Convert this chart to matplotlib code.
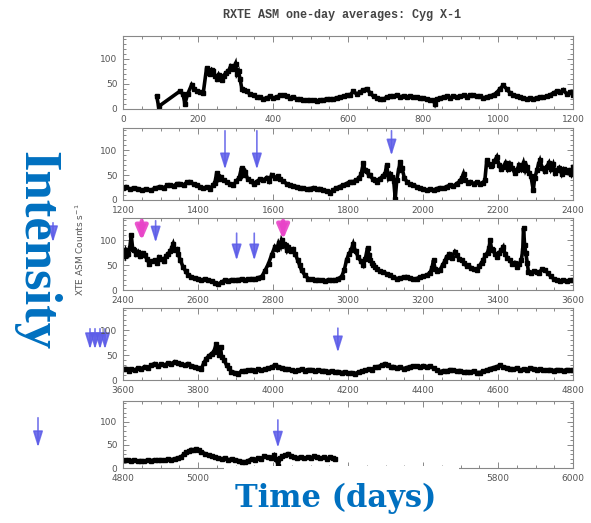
import matplotlib
matplotlib.use("Agg")
import matplotlib.pyplot as plt
from matplotlib.patches import Rectangle
from matplotlib.ticker import MultipleLocator

# one-day averages, (day, counts/s) per panel
p1 = [(90, 25), (95, 5), (151, 35), (160, 30), (165, 10), (172, 29), (183, 48), (190, 40), (196, 36), (205, 34),
      (214, 32), (223, 82), (228, 72), (232, 70), (237, 78), (241, 75), (246, 65), (250, 60), (255, 68), (259, 62),
      (264, 58), (268, 65), (274, 72), (281, 75), (287, 85), (294, 80), (300, 90), (304, 70), (308, 75), (312, 60),
      (317, 40), (323, 38), (330, 35), (338, 30), (348, 27), (356, 24), (366, 24), (374, 20), (383, 22), (392, 25),
      (401, 22), (410, 24), (419, 27), (428, 28), (436, 25), (445, 22), (454, 24), (463, 20), (472, 19), (481, 18),
      (490, 17), (499, 18), (508, 17), (517, 16), (526, 18), (534, 18), (543, 20), (552, 19), (561, 20), (570, 22),
      (579, 24), (588, 25), (597, 27), (606, 28), (614, 35), (623, 30), (632, 33), (641, 38), (650, 40), (659, 32),
      (668, 25), (676, 22), (685, 20), (694, 20), (703, 23), (712, 26), (721, 25), (730, 28), (739, 24), (748, 26),
      (756, 24), (765, 25), (774, 23), (783, 24), (792, 21), (801, 22), (810, 20), (819, 18), (828, 17), (832, 10),
      (837, 20), (846, 22), (855, 24), (863, 25), (872, 22), (881, 26), (890, 24), (899, 25), (908, 27), (917, 24),
      (926, 28), (934, 28), (943, 25), (952, 26), (961, 22), (970, 24), (979, 26), (988, 28), (996, 32), (1005, 40),
      (1014, 47), (1023, 40), (1032, 32), (1041, 28), (1050, 26), (1058, 24), (1067, 22), (1076, 20), (1085, 21),
      (1094, 20), (1103, 22), (1112, 24), (1121, 23), (1130, 25), (1139, 28), (1148, 32), (1156, 35), (1165, 33),
      (1174, 38), (1183, 30), (1192, 33), (1200, 28)]

p2 = [(1200, 25), (1208, 27), (1218, 22), (1228, 24), (1240, 23), (1250, 20), (1262, 22), (1275, 20), (1286, 24),
      (1298, 27), (1310, 25), (1318, 30), (1325, 30), (1335, 28), (1344, 33), (1352, 33), (1362, 30), (1370, 36),
      (1378, 37), (1388, 32), (1396, 30), (1405, 27), (1414, 24), (1423, 26), (1432, 23), (1440, 30), (1445, 35),
      (1450, 55), (1455, 42), (1460, 47), (1468, 40), (1476, 36), (1485, 33), (1494, 30), (1502, 38), (1510, 45),
      (1516, 65), (1520, 50), (1526, 57), (1532, 43), (1540, 38), (1548, 33), (1556, 37), (1565, 42), (1574, 40),
      (1583, 45), (1590, 38), (1596, 50), (1604, 45), (1612, 48), (1619, 43), (1627, 38), (1636, 33), (1645, 30),
      (1654, 28), (1663, 27), (1672, 25), (1681, 24), (1690, 22), (1699, 23), (1708, 25), (1717, 22), (1725, 23),
      (1734, 20), (1743, 18), (1752, 15), (1760, 20), (1769, 24), (1778, 27), (1787, 30), (1796, 33), (1805, 37),
      (1814, 37), (1822, 40), (1830, 45), (1835, 52), (1841, 75), (1845, 60), (1850, 58), (1855, 50), (1859, 50),
      (1866, 42), (1872, 40), (1876, 37), (1884, 42), (1892, 48), (1899, 53), (1903, 70), (1908, 45), (1913, 52),
      (1917, 47), (1922, 38), (1926, 3), (1930, 40), (1935, 60), (1939, 77), (1944, 65), (1950, 45), (1957, 37),
      (1965, 32), (1974, 30), (1983, 27), (1992, 24), (2001, 22), (2010, 20), (2019, 22), (2028, 20), (2037, 23),
      (2046, 25), (2055, 24), (2063, 27), (2072, 30), (2081, 28), (2090, 33), (2098, 38), (2104, 45), (2108, 53),
      (2113, 40), (2120, 35), (2126, 37), (2135, 33), (2143, 36), (2152, 33), (2160, 35), (2165, 40), (2170, 80),
      (2175, 72), (2180, 68), (2185, 70), (2190, 78), (2197, 87), (2203, 70), (2208, 62), (2214, 67), (2220, 75),
      (2226, 63), (2232, 73), (2238, 65), (2244, 55), (2250, 60), (2256, 70), (2262, 62), (2268, 75), (2273, 60),
      (2277, 67), (2283, 55), (2288, 48), (2294, 20), (2298, 45), (2304, 60), (2308, 72), (2312, 80), (2318, 65),
      (2324, 58), (2330, 67), (2336, 75), (2341, 62), (2347, 72), (2352, 55), (2357, 60), (2363, 65), (2370, 52),
      (2376, 62), (2383, 57), (2389, 60), (2395, 52), (2400, 67)]

p3 = [(2400, 75), (2405, 68), (2408, 80), (2414, 72), (2418, 85), (2422, 110), (2426, 82), (2430, 80), (2435, 72),
      (2440, 77), (2446, 68), (2452, 74), (2458, 70), (2464, 62), (2470, 53), (2476, 58), (2484, 60), (2490, 55),
      (2496, 66), (2502, 63), (2508, 58), (2514, 68), (2520, 73), (2526, 78), (2530, 85), (2534, 93), (2539, 80),
      (2543, 82), (2547, 73), (2553, 60), (2560, 47), (2567, 38), (2574, 30), (2582, 27), (2591, 24), (2600, 23),
      (2609, 20), (2618, 22), (2627, 20), (2636, 18), (2645, 15), (2654, 12), (2663, 16), (2672, 20), (2681, 19),
      (2690, 21), (2698, 20), (2707, 21), (2716, 22), (2725, 20), (2734, 22), (2743, 23), (2752, 22), (2761, 25),
      (2770, 27), (2778, 38), (2788, 53), (2796, 70), (2805, 87), (2810, 82), (2815, 95), (2820, 88), (2823, 100),
      (2828, 92), (2832, 90), (2837, 80), (2841, 87), (2847, 78), (2853, 82), (2859, 73), (2866, 60), (2871, 50),
      (2876, 40), (2885, 30), (2894, 23), (2903, 22), (2912, 20), (2921, 21), (2930, 20), (2939, 18), (2948, 21),
      (2957, 20), (2965, 20), (2974, 23), (2983, 27), (2990, 40), (2996, 60), (3002, 72), (3008, 80), (3014, 93),
      (3020, 78), (3027, 67), (3034, 58), (3041, 50), (3046, 62), (3052, 85), (3056, 70), (3059, 60), (3063, 55),
      (3066, 50), (3071, 47), (3076, 43), (3085, 38), (3094, 36), (3103, 33), (3112, 30), (3121, 26), (3130, 23),
      (3139, 24), (3148, 26), (3156, 27), (3165, 24), (3174, 22), (3183, 23), (3192, 26), (3201, 28), (3210, 30),
      (3219, 35), (3224, 45), (3228, 60), (3232, 43), (3238, 38), (3245, 40), (3252, 50), (3258, 58), (3263, 67),
      (3270, 72), (3276, 65), (3285, 77), (3291, 70), (3297, 62), (3303, 60), (3310, 55), (3316, 48), (3321, 50),
      (3328, 45), (3336, 42), (3343, 40), (3350, 48), (3356, 55), (3361, 60), (3366, 70), (3372, 75), (3376, 85),
      (3379, 100), (3383, 82), (3387, 80), (3392, 72), (3397, 67), (3403, 75), (3408, 80), (3414, 87), (3419, 72),
      (3425, 65), (3432, 60), (3438, 52), (3444, 55), (3450, 47), (3456, 52), (3462, 60), (3466, 80), (3468, 125),
      (3471, 90), (3474, 75), (3478, 55), (3481, 37), (3488, 35), (3495, 38), (3503, 37), (3510, 35), (3517, 42),
      (3525, 40), (3532, 35), (3540, 28), (3548, 23), (3556, 20), (3565, 18), (3574, 20), (3583, 18), (3592, 20),
      (3600, 20)]

p4 = [(3600, 22), (3608, 23), (3615, 18), (3622, 22), (3631, 20), (3640, 24), (3649, 23), (3658, 27), (3667, 25),
      (3675, 30), (3684, 33), (3693, 28), (3702, 32), (3711, 30), (3720, 34), (3729, 33), (3738, 37), (3746, 34),
      (3755, 32), (3764, 30), (3773, 33), (3782, 29), (3791, 27), (3800, 25), (3809, 23), (3816, 35), (3822, 43),
      (3828, 48), (3836, 53), (3842, 57), (3849, 73), (3853, 58), (3856, 50), (3860, 67), (3863, 47), (3870, 40),
      (3876, 30), (3882, 24), (3889, 17), (3898, 15), (3907, 13), (3916, 18), (3925, 19), (3934, 20), (3943, 21),
      (3952, 19), (3960, 22), (3969, 20), (3978, 22), (3987, 24), (3996, 26), (4005, 30), (4014, 27), (4023, 25),
      (4032, 23), (4041, 22), (4050, 20), (4058, 18), (4067, 20), (4076, 22), (4085, 19), (4094, 21), (4103, 21),
      (4112, 18), (4121, 20), (4130, 19), (4138, 19), (4147, 17), (4156, 18), (4165, 16), (4174, 17), (4183, 15),
      (4192, 16), (4201, 14), (4210, 15), (4219, 13), (4228, 16), (4237, 18), (4246, 20), (4255, 22), (4264, 21),
      (4272, 26), (4281, 27), (4290, 30), (4299, 33), (4307, 30), (4315, 26), (4321, 27), (4330, 25), (4339, 26),
      (4348, 23), (4357, 25), (4366, 27), (4374, 28), (4383, 28), (4392, 26), (4401, 29), (4410, 27), (4419, 28),
      (4428, 24), (4437, 20), (4446, 17), (4455, 19), (4464, 18), (4472, 21), (4481, 20), (4490, 18), (4499, 19),
      (4508, 16), (4517, 17), (4526, 16), (4535, 18), (4543, 15), (4552, 15), (4561, 18), (4570, 20), (4579, 23),
      (4588, 25), (4597, 27), (4606, 30), (4614, 26), (4623, 25), (4632, 23), (4641, 22), (4650, 24), (4659, 20),
      (4668, 22), (4677, 21), (4686, 24), (4695, 23), (4704, 21), (4712, 22), (4721, 20), (4730, 20), (4739, 21),
      (4748, 19), (4757, 21), (4766, 20), (4775, 19), (4784, 21), (4792, 20), (4800, 20)]

p5 = [(4803, 17), (4812, 18), (4821, 16), (4830, 17), (4839, 15), (4848, 16), (4857, 15), (4866, 17), (4875, 16),
      (4884, 18), (4893, 17), (4902, 18), (4911, 17), (4920, 19), (4929, 18), (4938, 20), (4947, 22), (4955, 24),
      (4962, 30), (4968, 34), (4975, 36), (4982, 40), (4988, 38), (4995, 41), (5002, 38), (5009, 35), (5019, 31),
      (5028, 28), (5036, 26), (5045, 24), (5054, 22), (5063, 20), (5072, 21), (5081, 18), (5090, 19), (5099, 17),
      (5108, 16), (5117, 14), (5125, 13), (5134, 16), (5143, 20), (5152, 18), (5160, 22), (5168, 20), (5177, 26),
      (5186, 24), (5195, 22), (5203, 28), (5208, 20), (5214, 5), (5219, 22), (5225, 25), (5232, 28), (5240, 31),
      (5248, 27), (5256, 24), (5265, 22), (5274, 24), (5283, 21), (5292, 23), (5300, 22), (5309, 25), (5317, 24),
      (5326, 21), (5335, 23), (5344, 20), (5352, 24), (5360, 22), (5366, 20)]

panels = [p1, p2, p3, p4, p5]
panel_start = [0, 1200, 2400, 3600, 4800]

# arrows inside panels: (panel, day, top count, tip count, kind)
arrows = [(1, 1472, 145, 56, "blue"), (1, 1557, 145, 56, "blue"), (1, 1916, 145, 84, "blue"),
          (2, 2450, 145, 94, "pink"), (2, 2487, 145, 90, "blue"), (2, 2703, 120, 54, "blue"),
          (2, 2750, 120, 54, "blue"), (2, 2827, 145, 96, "pink"),
          (3, 4173, 110, 50, "blue"),
          (4, 5213, 110, 38, "blue")]

W, H = 591, 523
fig = plt.figure(figsize=(W / 100, H / 100), dpi=100)

# panel boxes in image pixels (top, bottom)
rows = [(36, 109), (128, 200), (218, 290), (308, 380), (401, 468)]
left, right = 123, 573

axes = []
for i, (top, bot) in enumerate(rows):
    ax = fig.add_axes([left / W, 1 - bot / H, (right - left) / W, (bot - top) / H])
    days = [d for d, c in panels[i]]
    cnts = [c for d, c in panels[i]]
    ax.plot(days, cnts, color="black", lw=2.6, solid_joinstyle="miter")
    ax.plot(days, cnts, "s", color="black", ms=2.2)
    ax.set_xlim(panel_start[i], panel_start[i] + 1200)
    ax.set_ylim(0, 145)
    ax.set_xticks(range(panel_start[i], panel_start[i] + 1201, 200))
    ax.xaxis.set_minor_locator(MultipleLocator(50))
    ax.set_yticks([0, 50, 100])
    ax.yaxis.set_minor_locator(MultipleLocator(10))
    ax.tick_params(which="both", direction="in", top=True, right=True, colors="#888",
                   labelcolor="#555", labelsize=6.5, pad=4, width=0.7)
    ax.tick_params(which="major", length=4)
    ax.tick_params(which="minor", length=2)
    for s in ax.spines.values():
        s.set_color("#888")
        s.set_linewidth(0.8)
    axes.append(ax)

for p, day, y0, y1, kind in arrows:
    if kind == "pink":
        props = dict(arrowstyle="-|>,head_length=0.7,head_width=0.3", color="#e844c8",
                     lw=3, mutation_scale=12, alpha=0.9)
    else:
        props = dict(arrowstyle="-|>,head_length=0.8,head_width=0.25", color="#5c5ce8",
                     lw=1.2, mutation_scale=12, alpha=0.85)
    axes[p].annotate("", xy=(day, y1), xytext=(day, y0), arrowprops=props, annotation_clip=False)

# stray arrows left of the panels (image pixels)
side_arrows = [(53, 220, 245), (90, 326, 352), (95, 326, 352), (100, 326, 352), (105, 326, 352),
               (38, 415, 450)]
for x, ya, yb in side_arrows:
    axes[0].annotate("", xy=(x, H - yb), xycoords="figure pixels", xytext=(x, H - ya),
                     textcoords="figure pixels", annotation_clip=False,
                     arrowprops=dict(arrowstyle="-|>,head_length=0.8,head_width=0.25", color="#5c5ce8",
                                     lw=1.2, mutation_scale=12, alpha=0.85))

fig.text(342 / W, 1 - 15 / H, "RXTE ASM one-day averages: Cyg X-1", ha="center", va="center",
         family="Liberation Mono", weight="bold", fontsize=8.5, color="#444")
fig.text(80 / W, 1 - 250 / H, "XTE ASM Counts s$^{-1}$", rotation=90, ha="center", va="center",
         fontsize=6.5, color="#555")

fig.add_artist(Rectangle((224 / W, 0), (459 - 224) / W, (H - 466) / H, transform=fig.transFigure,
                         facecolor="white", edgecolor="none", zorder=10))
fig.text(336 / W, 1 - 498 / H, "Time (days)", ha="center", va="center", family="DejaVu Serif",
         weight="bold", fontsize=22, color="#0070C0", zorder=11)
fig.text(36 / W, 1 - 251 / H, "Intensity", rotation=270, ha="center", va="center",
         family="Liberation Serif", weight="bold", fontsize=38, color="#0070C0", zorder=11)

fig.savefig("out.png", dpi=100)
